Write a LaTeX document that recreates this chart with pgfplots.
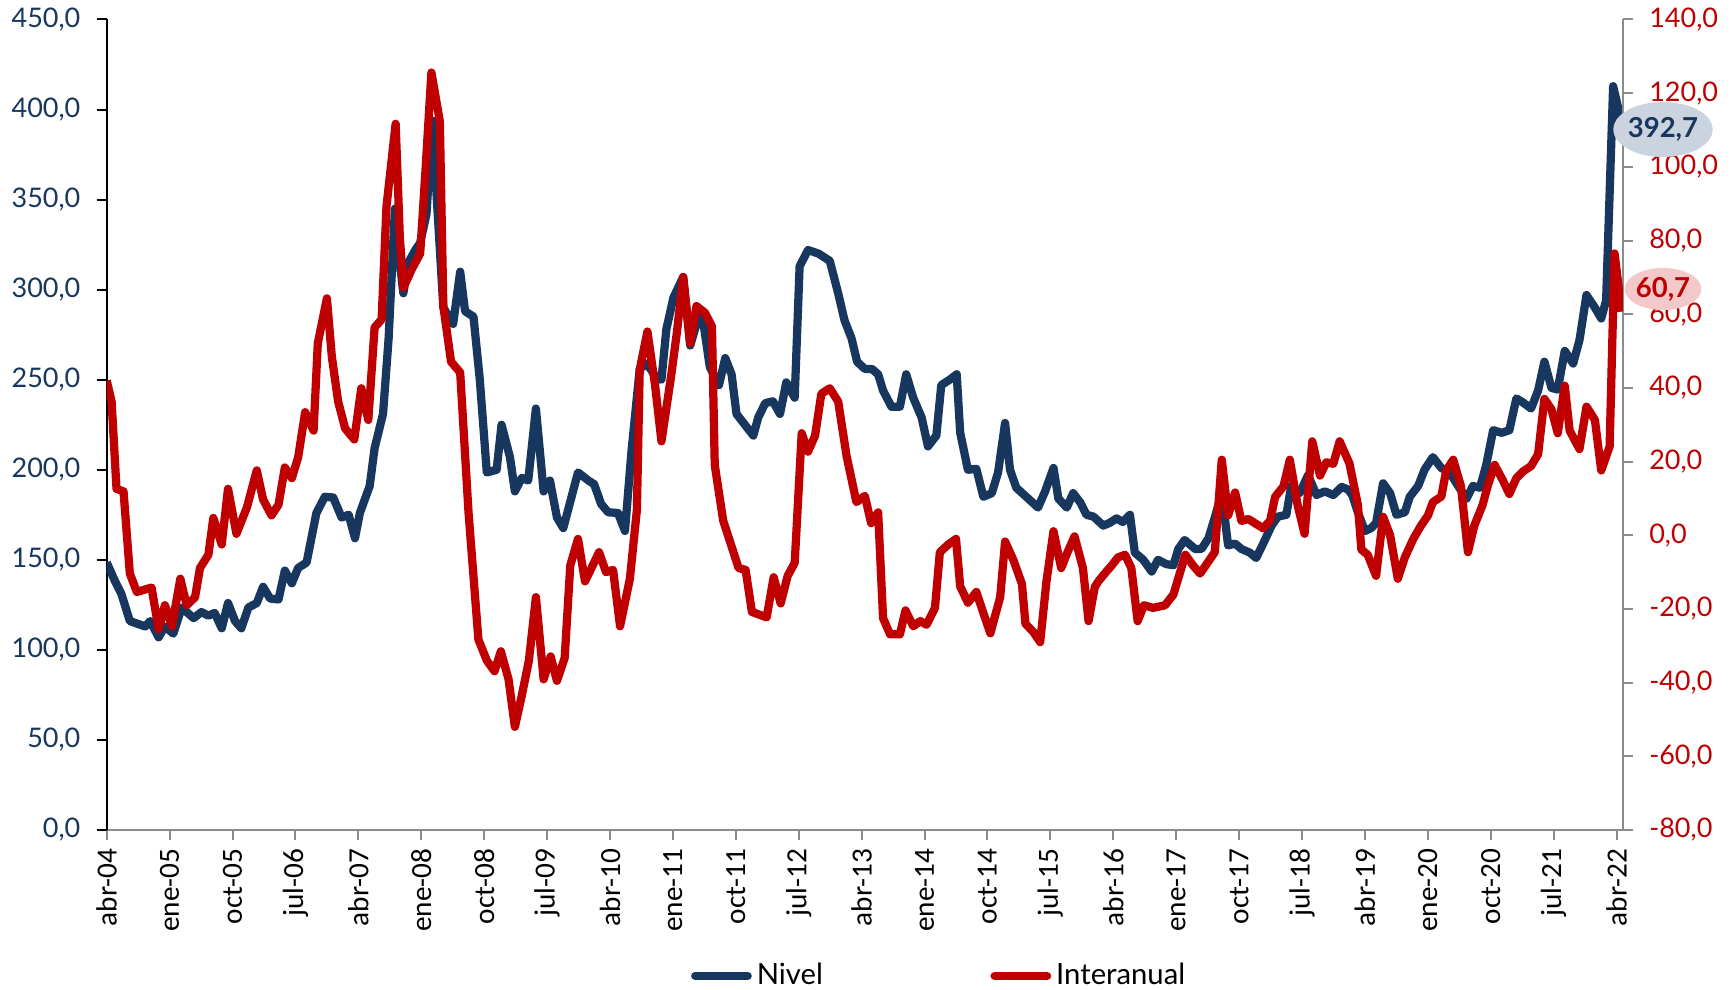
\documentclass[border=0pt]{standalone}
\usepackage{fontspec}
\setmainfont{Lato}
\newfontfamily\carlito{Carlito}
\usepackage{pgfplots}
\pgfplotsset{compat=1.18}
\usetikzlibrary{shapes.geometric}
\definecolor{nivel}{HTML}{17375E}
\definecolor{inter}{HTML}{C00000}
\definecolor{axgray}{HTML}{8C8C8C}
\definecolor{ellblue}{HTML}{CBD3DE}
\definecolor{ellred}{HTML}{F2C8C8}
\begin{document}
\begin{tikzpicture}
\useasboundingbox (0,0) rectangle (694pt,396pt);
\begin{axis}[
  at={(42.68pt,64pt)}, anchor=south west,
  scale only axis, width=606.5pt, height=324.2pt,
  xmin=0, xmax=216.2, ymin=0, ymax=450,
  axis x line*=bottom, axis y line*=left,
  x axis line style={-, axgray, line width=0.8pt},
  y axis line style={-, black, line width=0.8pt},
  xtick={0,8.97,17.94,26.91,35.88,44.85,53.82,62.79,71.76,80.73,89.7,98.67,107.64,116.61,125.58,134.55,143.52,152.49,161.46,170.43,179.4,188.37,197.34,206.31,215.28},
  xticklabels={abr-04,ene-05,oct-05,jul-06,abr-07,ene-08,oct-08,jul-09,abr-10,ene-11,oct-11,jul-12,abr-13,ene-14,oct-14,jul-15,abr-16,ene-17,oct-17,jul-18,abr-19,ene-20,oct-20,jul-21,abr-22},
  xticklabel style={rotate=90, anchor=east, font=\carlito\fontsize{11.7}{12}\selectfont, black},
  x tick style={axgray, line width=0.8pt},
  ytick={0,50,...,450},
  y tick style={black, line width=0.8pt},
  tick align=outside, major tick length=4pt,
  yticklabel style={font=\fontsize{10.8}{12}\selectfont, color=nivel, xshift=-3pt,
    /pgf/number format/.cd, fixed, fixed zerofill, precision=1, use comma, assume math mode=true},
  legend style={draw=none, fill=none, at={(0.550,-0.18)}, anchor=center,
    font=\fontsize{11.7}{12}\selectfont, /tikz/every even column/.append style={column sep=65pt}},
  legend columns=2,
  legend image code/.code={\draw[#1, line cap=round] (0pt,0pt) -- (21pt,0pt);},
]
\addplot[nivel, line width=3.3pt, line join=round, mark=none] coordinates {
(0,148.5)(1.2,138)(2.1,131)(3.3,116)(5.5,113)(6.2,116)(7.4,107)(8.3,113)(9.5,109)(10.7,123.5)
(12.4,117.6)(13.5,121)(14.5,119)(15.4,120.5)(16.4,112)(17.3,126)(18.3,116)(19.2,112)(20.2,123.5)
(21.4,126)(22.3,135)(23.3,128.5)(24.5,128)(25.4,144)(26.4,137)(27.3,145.5)(28.5,148.5)(29.9,176)
(31.1,185)(32.3,184.6)(33.5,173.5)(34.5,175)(35.4,162)(36.1,176)(37.5,191)(38.2,212)(39.4,231)
(40.2,273)(41.1,345)(41.8,315)(42.3,298)(43.0,315)(44.0,322)(44.7,326)(45.6,342)(46.4,394)
(47.0,355)(48.0,290)(49.4,281)(50.4,310)(51.1,288)(52.3,285)(53.2,250)(54.2,198.5)(55.6,200)
(56.3,225)(57.5,207)(58.2,188)(59.2,195.5)(60.1,194)(61.2,234)(62.3,188)(63.2,194)(64.2,173.5)
(65.1,167.6)(67.2,198.5)(68.7,194)(69.5,192)(70.5,181)(71.5,176.4)(72.9,176)(73.9,166)(74.8,209)
(76.0,256)(77.0,259)(78.4,251)(79.1,250)(79.8,278)(80.8,295.5)(82.2,307)(83.2,269)(84.4,285)
(85.1,281)(86.0,257)(87.3,247)(88.2,262)(89.1,253)(89.8,231)(91.0,225)(92.2,219)(92.9,229)
(93.9,237)(95.0,238)(96.0,231)(96.9,248.5)(98.1,240)(98.8,313)(100.0,322)(101.5,320)(103.1,316)
(104.3,298)(105.2,283)(106.2,273)(107.0,260)(108.1,256)(109.1,256)(110.0,253)(110.7,244)
(111.9,235)(113.1,235)(114.0,253)(115.0,240)(116.2,229)(117.1,213)(118.3,219)(119.0,247)
(120.2,250)(121.2,253)(121.7,220.5)(122.8,200)(124.0,200.5)(125.0,185)(126.2,187)(127.1,198.5)
(128.1,226)(128.8,200)(129.7,190)(131.4,184)(132.8,179)(133.8,188)(135.0,201)(135.7,184)
(136.9,179)(137.8,187)(138.8,182)(139.7,175)(140.7,174)(142.1,169)(143.0,170.5)(144.0,173)
(144.9,171)(145.9,175)(146.6,154)(147.8,150)(149.0,143.5)(149.9,150)(151.1,147.6)(152.1,147)
(152.8,156)(153.7,161)(155.2,156)(156.1,156)(157.1,162)(158.0,173.5)(159.0,187)(159.9,158)
(160.9,159)(161.8,156)(163.0,154)(163.9,151)(164.9,159)(166.1,169)(167.0,174)(168.2,175)
(168.9,191)(170.1,187)(171.3,197)(172.5,186)(173.7,188)(174.9,186)(176.1,190.5)(177.0,189)
(177.6,186)(178.4,176.4)(179.4,166)(180.3,167.6)(181.0,170.5)(182.0,192.5)(183.0,187)(183.9,175)
(185.1,176.4)(185.8,185)(187.0,191)(187.9,200)(189.1,207)(190.3,201)(191.5,198.5)(192.7,191)
(193.9,184)(194.8,191)(195.8,190)(196.7,202.6)(197.7,222)(198.9,220.5)(200.0,222)(201.0,239.6)
(201.9,237.5)(203.1,234)(204.1,244)(205.0,260)(206.0,245.5)(206.9,244.5)(207.9,266)(209.1,259)
(210.0,272)(211.0,297)(212.2,290)(213.1,284)(213.8,294)(214.8,413)(216,392.7)
};
\addlegendentry{Nivel}
\addlegendimage{inter, line width=3.3pt}
\addlegendentry{Interanual}
\end{axis}
\begin{axis}[
  at={(42.68pt,64pt)}, anchor=south west,
  scale only axis, width=606.5pt, height=324.2pt,
  xmin=0, xmax=216.2, ymin=-80, ymax=140,
  axis y line*=right, axis x line=none,
  y axis line style={-, axgray, line width=0.8pt},
  ytick={-80,-60,...,140},
  y tick style={axgray, line width=0.8pt},
  tick align=outside, major tick length=4pt,
  yticklabel style={font=\fontsize{10.8}{12}\selectfont, color=inter, xshift=3pt,
    /pgf/number format/.cd, fixed, fixed zerofill, precision=1, use comma, assume math mode=true},
]
\addplot[inter, line width=3.3pt, line join=round, mark=none] coordinates {
(0,42)(0.7,36.3)(1.4,12.6)(2.4,11.9)(3.3,-10.4)(4.3,-15.4)(5.5,-14.7)(6.4,-14.2)(7.4,-25.5)
(8.3,-19)(9.3,-24.7)(10.5,-11.8)(11.4,-19)(12.6,-16.8)(13.3,-8.9)(14.5,-5.3)(15.2,4.7)(16.4,-2.5)
(17.3,12.6)(18.5,0.4)(20.0,7.6)(21.4,17.6)(22.3,9.7)(23.5,5.4)(24.5,8.3)(25.4,18.4)(26.4,15.5)
(27.3,21.2)(28.3,33.4)(29.5,28.4)(30.1,52.1)(31.4,64.3)(32.1,48.5)(33.0,36.3)(34.0,29)(35.3,26)
(36.3,39.9)(37.3,31.3)(38.2,56.4)(39.2,58.6)(39.9,89.4)(41.2,111.7)(41.8,80.8)(42.3,67.2)
(43.5,72.2)(44.7,76.5)(45.4,97.3)(46.3,125.6)(47.5,112.4)(48.0,62.2)(49.1,47.1)(50.4,44.2)
(51.6,6)(53.0,-28.3)(54.2,-34)(55.3,-36.9)(56.2,-31.5)(57.3,-39.1)(58.2,-52)(59.2,-43.4)
(60.2,-34)(61.2,-16.8)(62.3,-39.1)(63.3,-32.9)(64.2,-39.5)(65.3,-33.3)(66.1,-8.2)(67.2,-1)
(68.2,-12.5)(69.3,-8.2)(70.2,-4.6)(71.2,-10)(72.2,-9.4)(73.2,-24.7)(74.6,-11.8)(75.6,6.9)
(76.0,44.9)(77.1,55.3)(78.2,40.6)(79.1,25.5)(80.5,43.5)(81.3,55)(82.2,70.1)(83.2,52.1)(84.1,62.2)
(85.3,60.4)(86.3,56.7)(86.7,19.1)(87.9,4)(90.1,-8.9)(91.1,-9.4)(92.0,-20.8)(94.1,-22.3)
(95.1,-11.4)(96.1,-18.5)(97.1,-11)(98.1,-7.5)(99.1,27.7)(100.0,22.7)(101.0,27)(101.9,38.4)
(103.1,39.9)(104.3,36.3)(105.5,21.5)(106.9,9)(108.1,10.7)(109.0,3.3)(110.0,6.2)(110.7,-22.5)
(111.7,-26.9)(113.1,-26.9)(113.9,-20.4)(115.0,-24.7)(116.0,-23.3)(116.9,-24.3)(118.1,-19.7)
(118.8,-4.6)(120.0,-2.5)(121.1,-1)(121.7,-13.9)(122.8,-18.3)(124.0,-15.4)(125.0,-21.1)
(126.0,-26.6)(127.4,-16.8)(128.1,-1.7)(129.3,-6.8)(130.5,-13.2)(131.0,-24)(132.1,-26.2)
(133.1,-29)(134.0,-12.5)(135.0,1.1)(136.1,-8.9)(137.0,-4.6)(138.0,-0.3)(139.2,-8.9)(140.0,-23.3)
(140.9,-14)(141.4,-12.5)(142.3,-10.4)(143.3,-8.2)(144.2,-6)(145.2,-5.3)(146.1,-8.9)(147.0,-23.3)
(147.9,-19)(149.2,-19.7)(150.9,-19)(152.1,-16.1)(153.0,-10.4)(153.8,-5.3)(154.9,-8.2)(155.9,-10.4)
(157.1,-7.1)(158.0,-4.6)(159.0,20.5)(159.9,5.4)(160.9,11.6)(161.8,3.9)(162.8,4.4)(163.7,3.3)
(164.9,1.9)(165.9,4)(166.6,10.4)(167.8,13.3)(168.7,20.5)(169.8,8.3)(170.8,0.4)(171.9,25.5)
(173.0,16.2)(173.9,19.8)(174.9,19.4)(175.8,25.5)(177.2,19.5)(178.4,8.3)(178.9,-3.9)(179.8,-5.3)
(181.0,-11)(182.0,5)(183.0,0)(184.1,-11.8)(185.1,-6)(186.3,-1)(187.4,2.6)(188.4,5.4)(189.1,9)
(190.3,10.5)(191.0,17.6)(192.0,20.5)(193.1,13.3)(194.1,-4.6)(195.0,2.6)(196.2,8.3)(196.9,13.3)
(197.9,19.1)(199.1,14.8)(200.0,11.2)(201.0,15.5)(202.0,17.4)(203.1,18.8)(204.1,22)(205.0,37)
(206.0,34.2)(206.9,27.7)(207.9,40.6)(208.6,28.4)(210.0,23.4)(211.0,34.9)(212.2,31.3)(213.1,17.6)
(214.3,24.1)(215.0,76.5)(216,60.7)
};
\end{axis}
\node[ellipse, fill=ellblue, minimum width=39.6pt, minimum height=22pt, inner sep=0pt,
  font=\bfseries\fontsize{11}{12}\selectfont, text=nivel] at (665.2pt,344.2pt) {392,7};
\node[ellipse, fill=ellred, minimum width=28pt, minimum height=16.8pt, inner sep=0pt,
  font=\bfseries\fontsize{11}{12}\selectfont, text=inter] at (665.2pt,280.4pt) {60,7};
\end{tikzpicture}
\end{document}
